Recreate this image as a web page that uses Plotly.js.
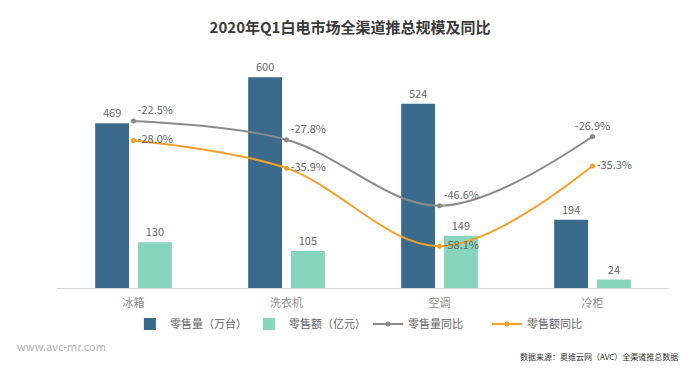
<!DOCTYPE html>
<html>
<head>
<meta charset="utf-8">
<script src="https://cdn.plot.ly/plotly-3.0.1.min.js"></script>
<style>html,body{margin:0;padding:0;background:#fff;}#chart{width:700px;height:373px;}</style>
</head>
<body>
<div id="chart"></div>
<script>
const categories = ['冰箱', '洗衣机', '空调', '冷柜'];
const retailVolume = [469, 600, 524, 194];      // 零售量（万台）
const retailValue = [130, 105, 149, 24];        // 零售额（亿元）
const volumeYoY = [-22.5, -27.8, -46.6, -26.9]; // 零售量同比 %
const valueYoY = [-28.0, -35.9, -58.1, -35.3];  // 零售额同比 %

const FONT = '"Noto Sans CJK SC", "Noto Sans", sans-serif';
const labelColor = '#666666';

const traces = [
  {
    type: 'bar', name: '零售量（万台）', x: categories, y: retailVolume,
    marker: {color: '#3b6b8c'},
    text: retailVolume.map(String), textposition: 'outside', cliponaxis: false,
    textfont: {size: 11, color: labelColor, family: FONT}
  },
  {
    type: 'bar', name: '零售额（亿元）', x: categories, y: retailValue,
    marker: {color: '#88d5bd'},
    text: retailValue.map(String), textposition: 'outside', cliponaxis: false,
    textfont: {size: 11, color: labelColor, family: FONT}
  },
  {
    type: 'scatter', mode: 'lines+markers+text', name: '零售量同比',
    x: categories, y: volumeYoY, yaxis: 'y2',
    line: {color: '#8a8a8a', width: 2, shape: 'spline', smoothing: 1},
    marker: {color: '#8a8a8a', size: 5},
    text: volumeYoY.map(v => v.toFixed(1) + '%'),
    textposition: ['top right', 'top right', 'top right', 'top center'],
    textfont: {size: 11, color: labelColor, family: FONT}, cliponaxis: false
  },
  {
    type: 'scatter', mode: 'lines+markers+text', name: '零售额同比',
    x: categories, y: valueYoY, yaxis: 'y2',
    line: {color: '#f3a02a', width: 2, shape: 'spline', smoothing: 1},
    marker: {color: '#f3a02a', size: 5},
    text: valueYoY.map(v => v.toFixed(1) + '%'),
    textposition: ['middle right', 'middle right', 'middle right', 'middle right'],
    textfont: {size: 11, color: labelColor, family: FONT}, cliponaxis: false
  }
];

const layout = {
  width: 700, height: 373,
  margin: {l: 57, r: 31, t: 42, b: 85},
  paper_bgcolor: '#ffffff', plot_bgcolor: '#ffffff',
  font: {family: FONT, color: labelColor, size: 11},
  title: {
    text: '<b>2020年Q1白电市场全渠道推总规模及同比</b>',
    font: {size: 15, color: '#3a3a3a', family: FONT},
    x: 0.5, xanchor: 'center', y: 0.925, yanchor: 'middle', yref: 'container'
  },
  barmode: 'group', bargap: 0.44, bargroupgap: 0.21,
  xaxis: {
    showgrid: false, zeroline: false, showline: true, linecolor: '#d9d9d9', linewidth: 1,
    ticks: 'outside', ticklen: 5, tickcolor: 'rgba(0,0,0,0)',
    tickfont: {size: 11, color: '#8c8c8c', family: FONT}
  },
  yaxis: {range: [0, 700], visible: false, showgrid: false, zeroline: false, fixedrange: true},
  yaxis2: {range: [-70, 0], overlaying: 'y', side: 'right', visible: false, showgrid: false, zeroline: false},
  showlegend: true,
  legend: {
    orientation: 'h', x: 0.508, xanchor: 'center', y: -0.146, yanchor: 'middle',
    font: {size: 11, color: labelColor, family: FONT}, traceorder: 'normal',
    itemwidth: 30, entrywidth: 74, entrywidthmode: 'pixels'
  },
  annotations: [
    {text: 'www.avc-mr.com', xref: 'paper', yref: 'paper', x: -0.068, y: -0.236,
     xanchor: 'left', yanchor: 'middle', showarrow: false,
     font: {size: 11, color: '#b3b3b3', family: FONT}},
    {text: '数据来源：奥维云网（AVC）全渠道推总数据', xref: 'paper', yref: 'paper', x: 1.018, y: -0.28,
     xanchor: 'right', yanchor: 'middle', showarrow: false,
     font: {size: 8, color: '#333333', family: FONT}}
  ]
};

Plotly.newPlot('chart', traces, layout, {displayModeBar: false, staticPlot: true});
</script>
</body>
</html>
